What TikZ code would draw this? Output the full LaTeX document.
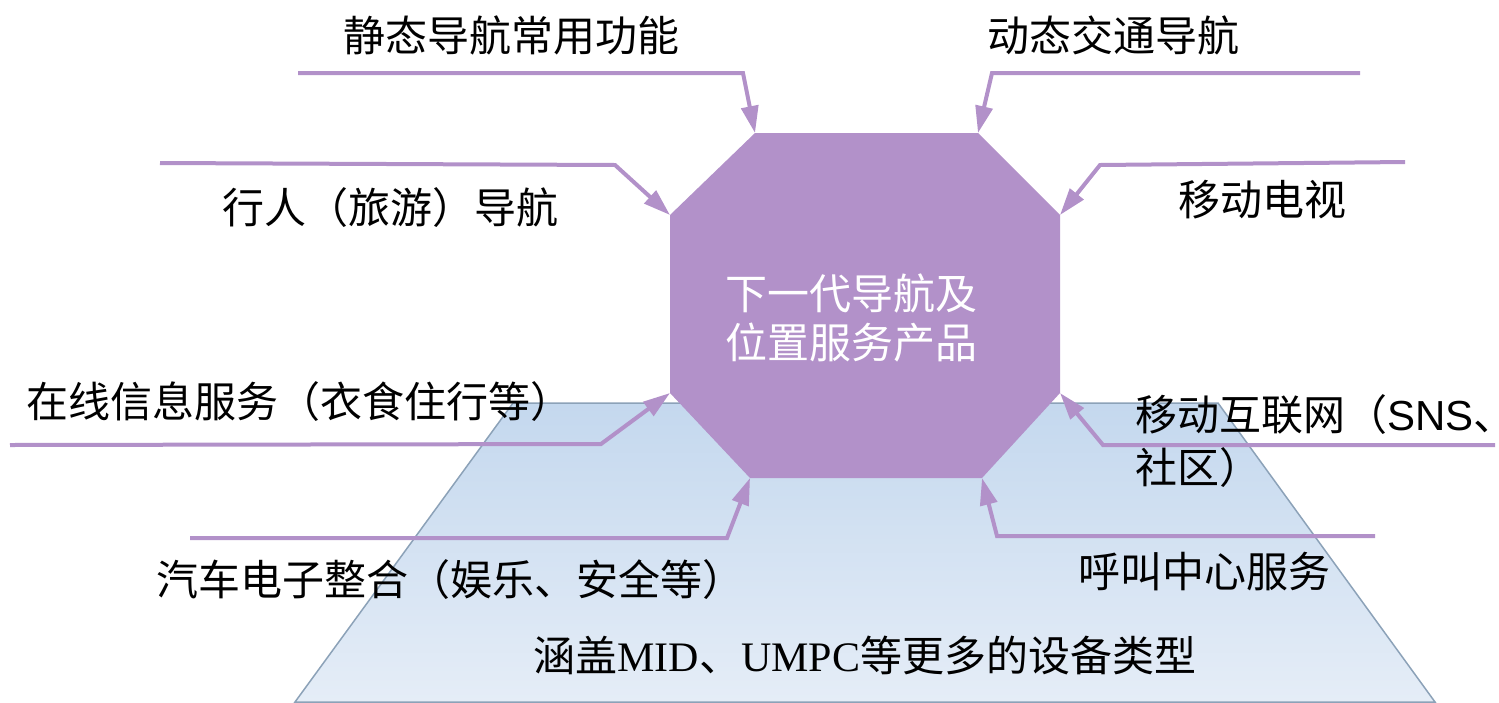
\documentclass[tikz,border=0pt]{standalone}
\usepackage{fontspec}
\setmainfont{Liberation Serif}
\newfontfamily\cjk{Noto Sans CJK SC}
\newfontfamily\arial{Liberation Sans}
\usetikzlibrary{arrows.meta}
\definecolor{octfill}{RGB}{178,145,201}
\definecolor{basetop}{RGB}{196,216,238}
\definecolor{basebot}{RGB}{229,237,247}
\definecolor{baseedge}{RGB}{140,162,184}
\begin{document}
\begin{tikzpicture}[x=1pt,y=-1pt,
    lbl/.style={font=\cjk\fontsize{42}{49}\selectfont,inner sep=0pt},
    link/.style={draw=octfill,line width=4pt,-{Triangle[length=27pt,width=17pt]}}]
    \useasboundingbox (0,0) rectangle (1499,702);

    % device base
    \shade[top color=basetop,bottom color=basebot,draw=baseedge,line width=1.5pt]
        (513,403) -- (1218,403) -- (1435,702) -- (295,702) -- cycle;

    % octagon corners
    \coordinate (o1) at (755,133);
    \coordinate (o2) at (978,133);
    \coordinate (o3) at (1060,215);
    \coordinate (o4) at (1060,393);
    \coordinate (o5) at (982,478);
    \coordinate (o6) at (750,478);
    \coordinate (o7) at (670,393);
    \coordinate (o8) at (670,215);

    % connector bends
    \coordinate (a1) at (298,73);   \coordinate (b1) at (743,73);
    \coordinate (a2) at (1360,73);  \coordinate (b2) at (992,73);
    \coordinate (a3) at (160,163);  \coordinate (b3) at (615,165);
    \coordinate (a4) at (1405,162); \coordinate (b4) at (1100,165);
    \coordinate (a5) at (10,445);   \coordinate (b5) at (601,444);
    \coordinate (a6) at (1495,445); \coordinate (b6) at (1103,445);
    \coordinate (a7) at (190,538);  \coordinate (b7) at (727,538);
    \coordinate (a8) at (1375,536); \coordinate (b8) at (997,536);

    \draw[link] (a1) -- (b1) -- (o1);
    \draw[link] (a2) -- (b2) -- (o2);
    \draw[link] (a3) -- (b3) -- (o8);
    \draw[link] (a4) -- (b4) -- (o3);
    \draw[link] (a5) -- (b5) -- (o7);
    \draw[link] (a6) -- (b6) -- (o4);
    \draw[link] (a7) -- (b7) -- (o6);
    \draw[link] (a8) -- (b8) -- (o5);

    \fill[octfill] (o1) -- (o2) -- (o3) -- (o4) -- (o5) -- (o6) -- (o7) -- (o8) -- cycle;

    \node[lbl,text=white,align=center] (core) at (851,318) {下一代导航及\\位置服务产品};

    \node[lbl] (static) at (511,35) {静态导航常用功能};
    \node[lbl] (traffic) at (1113,35) {动态交通导航};
    \node[lbl] (walk) at (390,208) {行人（旅游）导航};
    \node[lbl] (tv) at (1262,200) {移动电视};
    \node[lbl] (online) at (300,402) {在线信息服务（衣食住行等）};
    \node[lbl,anchor=west,align=left,font=\cjk\fontsize{42}{53}\selectfont] (mobnet) at (1135,441)
        {移动互联网（{\arial SNS}、\\社区）};
    \node[lbl] (car) at (450,580) {汽车电子整合（娱乐、安全等）};
    \node[lbl] (call) at (1204,572) {呼叫中心服务};
    \node[lbl] (device) at (865,655) {涵盖{\rmfamily MID}、{\rmfamily UMPC}等更多的设备类型};
\end{tikzpicture}
\end{document}
